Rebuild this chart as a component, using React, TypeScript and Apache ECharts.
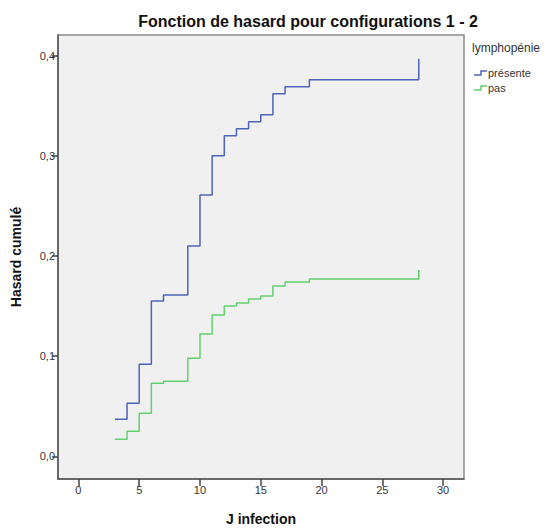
import React, { useEffect, useRef } from "react";
import * as echarts from "echarts";

const times = [3, 4, 5, 6, 7, 9, 10, 11, 12, 13, 14, 15, 16, 17, 19, 28];
const presente = [0.037, 0.053, 0.092, 0.155, 0.161, 0.21, 0.261, 0.3, 0.32, 0.327, 0.334, 0.341, 0.362, 0.369, 0.376, 0.397];
const pas = [0.017, 0.025, 0.043, 0.073, 0.075, 0.098, 0.122, 0.141, 0.15, 0.153, 0.157, 0.16, 0.17, 0.174, 0.177, 0.186];
const xTicks = [0, 5, 10, 15, 20, 25, 30];
const yTicks = [0, 0.1, 0.2, 0.3, 0.4];
const seriesNames = ["présente", "pas"];
const chartTitle = "Fonction de hasard pour configurations 1 - 2";
const legendTitle = "lymphopénie";

const BLUE = "#4d64b8";
const GREEN = "#62cf6e";
const FONT = "'Liberation Sans', Arial, sans-serif";

export default function App() {
  const ref = useRef<HTMLDivElement>(null);
  useEffect(() => {
    if (!ref.current) return;
    const chart = echarts.init(ref.current, undefined, { renderer: "svg" });
    const toPairs = (vals: number[]) => times.map((t, i) => [t, vals[i]]);
    const icon = (y: number, color: string) => ({
      type: "polyline",
      shape: { points: [[474, y + 2], [481, y + 2], [481, y - 2], [487, y - 2]] },
      style: { stroke: color, lineWidth: 1.5, fill: "none" },
      silent: true,
    });
    chart.setOption({
      animation: false,
      backgroundColor: "#ffffff",
      textStyle: { fontFamily: FONT },
      grid: {
        left: 58,
        top: 35,
        right: 80,
        bottom: 50,
        outerBoundsMode: "none",
        containLabel: false,
        show: true,
        backgroundColor: "#f0f0f0",
        borderColor: "#8a8a8a",
        borderWidth: 1.5,
      },
      xAxis: {
        type: "value",
        min: -1.68,
        max: 31.72,
        name: "J infection",
        nameLocation: "middle",
        nameGap: 33,
        nameTextStyle: { fontSize: 14, fontWeight: "bold", color: "#111", fontFamily: FONT },
        axisLine: { show: true, onZero: false, lineStyle: { color: "#555", width: 1.5 } },
        axisTick: { show: true, length: 7, customValues: xTicks, lineStyle: { color: "#444", width: 1.5 } },
        axisLabel: { customValues: xTicks, fontSize: 11, color: "#333", margin: 5, fontFamily: FONT },
        splitLine: { show: false },
      },
      yAxis: {
        type: "value",
        min: -0.0227,
        max: 0.4207,
        name: "Hasard cumulé",
        nameLocation: "middle",
        nameGap: 35,
        nameTextStyle: { fontSize: 14, fontWeight: "bold", color: "#111", fontFamily: FONT },
        axisLine: { show: true, onZero: false, lineStyle: { color: "#555", width: 1.5 } },
        axisTick: { show: true, length: 6, customValues: yTicks, lineStyle: { color: "#444", width: 1.5 } },
        axisLabel: {
          customValues: yTicks,
          fontSize: 11,
          color: "#333",
          margin: 3,
          fontFamily: FONT,
          formatter: (v: number) => v.toFixed(1).replace(".", ","),
        },
        splitLine: { show: false },
      },
      series: [
        {
          name: seriesNames[0],
          type: "line",
          step: "end",
          showSymbol: false,
          data: toPairs(presente),
          lineStyle: { color: BLUE, width: 1.5 },
          itemStyle: { color: BLUE },
        },
        {
          name: seriesNames[1],
          type: "line",
          step: "end",
          showSymbol: false,
          data: toPairs(pas),
          lineStyle: { color: GREEN, width: 1.5 },
          itemStyle: { color: GREEN },
        },
      ],
      graphic: [
        {
          type: "text",
          x: 308,
          y: 21,
          style: {
            text: chartTitle,
            fill: "#111",
            font: `bold 16px ${FONT}`,
            textAlign: "center",
            textVerticalAlign: "middle",
          },
        },
        {
          type: "text",
          x: 472,
          y: 48,
          style: { text: legendTitle, fill: "#333", font: `12px ${FONT}`, textVerticalAlign: "middle" },
        },
        icon(73, BLUE),
        {
          type: "text",
          x: 488,
          y: 73,
          style: { text: seriesNames[0], fill: "#333", font: `11px ${FONT}`, textVerticalAlign: "middle" },
        },
        icon(88, GREEN),
        {
          type: "text",
          x: 488,
          y: 88,
          style: { text: seriesNames[1], fill: "#333", font: `11px ${FONT}`, textVerticalAlign: "middle" },
        },
      ],
    });
    return () => chart.dispose();
  }, []);
  return <div ref={ref} style={{ width: 544, height: 529, position: "absolute", left: 0, top: 0 }} />;
}
